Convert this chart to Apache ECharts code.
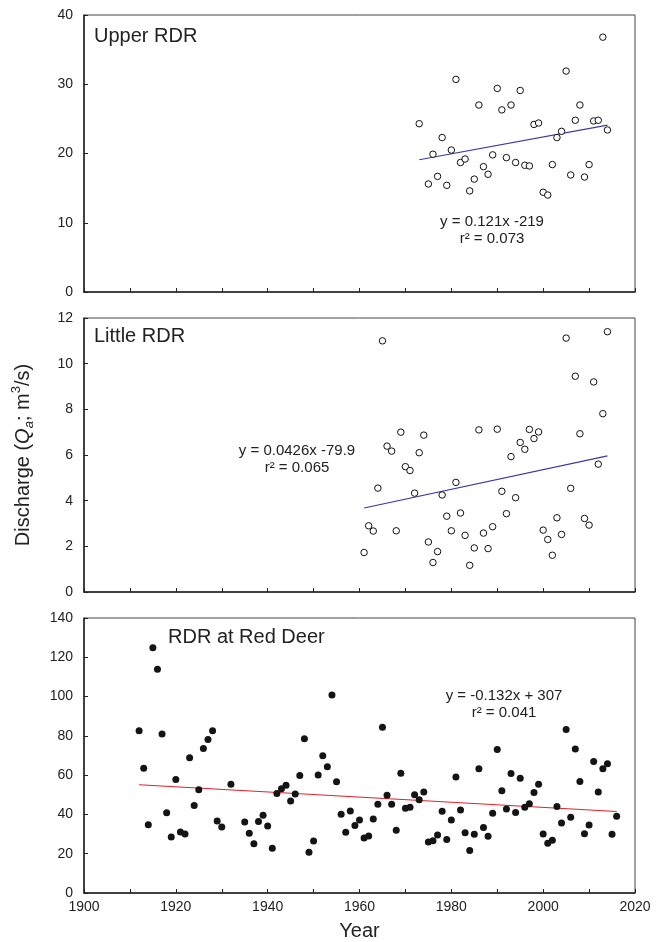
<!DOCTYPE html>
<html>
<head>
<meta charset="utf-8">
<title>Red Deer River annual discharge</title>
<script src="https://cdn.jsdelivr.net/npm/echarts@6/dist/echarts.min.js"></script>
<style>
  html, body { margin: 0; padding: 0; background: #fff; }
  #chart { width: 664px; height: 942px; }
</style>
</head>
<body>
<div id="chart"></div>
<script>
  // Upper RDR - 空心点
  var upperYears = [1973, 1975, 1976, 1977, 1978, 1979, 1980, 1981, 1982, 1983, 1984, 1985, 1986, 1987,
    1988, 1989, 1990, 1991, 1992, 1993, 1994, 1995, 1996, 1997, 1998, 1999, 2000, 2001, 2002, 2003,
    2004, 2005, 2006, 2007, 2008, 2009, 2010, 2011, 2012, 2013, 2014];
  var upperQ = [24.3, 15.6, 19.9, 16.7, 22.3, 15.4, 20.5, 30.7, 18.7, 19.2, 14.6, 16.3, 27.0, 18.1,
    17.0, 19.8, 29.4, 26.3, 19.4, 27.0, 18.7, 29.1, 18.3, 18.2, 24.2, 24.4, 14.4, 14.0, 18.4, 22.3,
    23.2, 31.9, 16.9, 24.8, 27.0, 16.6, 18.4, 24.7, 24.8, 36.8, 23.4];
  var upperTrend = [[1973, 19.1], [2014, 24.1]];

  // Little RDR - 空心点
  var littleYears = [1961, 1962, 1963, 1964, 1965, 1966, 1967, 1968, 1969, 1970, 1971, 1972, 1973, 1974,
    1975, 1976, 1977, 1978, 1979, 1980, 1981, 1982, 1983, 1984, 1985, 1986, 1987, 1988, 1989, 1990,
    1991, 1992, 1993, 1994, 1995, 1996, 1997, 1998, 1999, 2000, 2001, 2002, 2003, 2004, 2005, 2006,
    2007, 2008, 2009, 2010, 2011, 2012, 2013, 2014];
  var littleQ = [1.73, 2.9, 2.67, 4.55, 11.0, 6.39, 6.17, 2.68, 7.0, 5.49, 5.32, 4.33, 6.1, 6.87,
    2.19, 1.29, 1.77, 4.25, 3.32, 2.68, 4.8, 3.46, 2.48, 1.17, 1.93, 7.1, 2.58, 1.9, 2.86, 7.13,
    4.41, 3.43, 5.93, 4.13, 6.55, 6.25, 7.12, 6.72, 7.01, 2.71, 2.3, 1.61, 3.25, 2.52, 11.12, 4.54,
    9.45, 6.93, 3.22, 2.93, 9.2, 5.6, 7.81, 11.4];
  var littleTrend = [[1961, 3.68], [2014, 5.96]];

  // RDR at Red Deer - 实心点
  var redDeerYears = [1912, 1913, 1914, 1915, 1916, 1917, 1918, 1919, 1920, 1921, 1922, 1923, 1924,
    1925, 1926, 1927, 1928, 1929, 1930, 1932, 1935, 1936, 1937, 1938, 1939, 1940, 1941, 1942, 1943,
    1944, 1945, 1946, 1947, 1948, 1949, 1950, 1951, 1952, 1953, 1954, 1955, 1956, 1957, 1958, 1959,
    1960, 1961, 1962, 1963, 1964, 1965, 1966, 1967, 1968, 1969, 1970, 1971, 1972, 1973, 1974, 1975,
    1976, 1977, 1978, 1979, 1980, 1981, 1982, 1983, 1984, 1985, 1986, 1987, 1988, 1989, 1990, 1991,
    1992, 1993, 1994, 1995, 1996, 1997, 1998, 1999, 2000, 2001, 2002, 2003, 2004, 2005, 2006, 2007,
    2008, 2009, 2010, 2011, 2012, 2013, 2014, 2015, 2016];
  var redDeerQ = [82.6, 63.5, 34.7, 124.9, 113.9, 81.0, 40.8, 28.5, 57.8, 31.0, 30.0, 68.9, 44.5,
    52.6, 73.6, 78.1, 82.6, 36.6, 33.6, 55.4, 36.1, 30.4, 25.1, 36.4, 39.6, 34.1, 22.8, 50.6, 53.1,
    54.9, 46.8, 50.4, 59.8, 78.5, 20.8, 26.5, 60.1, 69.9, 64.3, 100.8, 56.6, 40.1, 30.9, 41.8, 34.4,
    37.2, 28.0, 29.0, 37.7, 45.2, 84.4, 49.8, 45.2, 31.9, 61.0, 43.1, 43.6, 50.0, 47.5, 51.4, 26.0,
    26.6, 29.5, 41.6, 27.3, 37.2, 59.1, 42.3, 30.7, 21.6, 29.9, 63.2, 33.4, 28.9, 40.6, 73.1, 52.1,
    42.8, 60.8, 41.0, 58.4, 43.6, 45.5, 51.2, 55.4, 30.0, 25.3, 26.8, 44.1, 35.6, 83.2, 38.6, 73.3,
    56.8, 30.2, 34.6, 67.0, 51.4, 63.2, 65.8, 29.9, 39.1];
  var redDeerTrend = [[1912, 55.1], [2016, 41.5]];

  // 纵轴刻度 [min, max, interval]
  var upperTicks = [0, 40, 10];
  var littleTicks = [0, 12, 2];
  var redDeerTicks = [0, 140, 20];

  var fontFamily = "'Liberation Sans', Arial, Helvetica, sans-serif";
  var axisColor = '#222';

  function pairs(xs, ys) {
    return xs.map(function (x, i) { return [x, ys[i]]; });
  }

  function makeXAxis(idx, showLabel) {
    return {
      type: 'value',
      gridIndex: idx,
      min: 1900,
      max: 2020,
      interval: 10,
      name: showLabel ? 'Year' : '',
      nameLocation: 'middle',
      nameGap: 28,
      nameTextStyle: { fontFamily: fontFamily, fontSize: 20, color: axisColor },
      axisLine: { lineStyle: { color: axisColor, width: 1.5 } },
      axisTick: { inside: true, length: 4, lineStyle: { color: axisColor } },
      axisLabel: {
        show: showLabel,
        margin: 7,
        fontFamily: fontFamily,
        fontSize: 14,
        color: axisColor,
        formatter: function (v) { return v % 20 === 0 ? String(v) : ''; }
      },
      splitLine: { show: false }
    };
  }

  function makeYAxis(idx, ticks) {
    return {
      type: 'value',
      gridIndex: idx,
      min: ticks[0],
      max: ticks[1],
      interval: ticks[2],
      axisLine: { show: true, lineStyle: { color: axisColor, width: 1.5 } },
      axisTick: { show: true, inside: true, length: 4, lineStyle: { color: axisColor } },
      axisLabel: { margin: 11, fontFamily: fontFamily, fontSize: 14, color: axisColor },
      splitLine: { show: false }
    };
  }

  var yAxes = [
    makeYAxis(0, upperTicks),
    makeYAxis(1, littleTicks),
    makeYAxis(2, redDeerTicks)
  ];
  // 纵轴标题放在中间那张图上
  yAxes[1].name = 'Discharge ({q|Q}{sub|a}; m{sup|3}/s)';
  yAxes[1].nameLocation = 'middle';
  yAxes[1].nameGap = 48;
  yAxes[1].nameTextStyle = {
    fontFamily: fontFamily,
    fontSize: 20,
    lineHeight: 26,
    color: axisColor,
    rich: {
      q: { fontFamily: fontFamily, fontSize: 20, lineHeight: 26, fontStyle: 'italic', color: axisColor },
      sub: { fontFamily: fontFamily, fontSize: 13, lineHeight: 13, fontStyle: 'italic', color: axisColor, verticalAlign: 'bottom' },
      sup: { fontFamily: fontFamily, fontSize: 13, lineHeight: 13, color: axisColor, verticalAlign: 'top' }
    }
  };

  function openDots(idx, data) {
    return {
      type: 'scatter', xAxisIndex: idx, yAxisIndex: idx, data: data,
      symbol: 'circle', symbolSize: 6.5,
      itemStyle: { color: '#fff', borderColor: '#111', borderWidth: 1, opacity: 1 },
      z: 3
    };
  }

  function trendLine(idx, data, color) {
    return {
      type: 'line', xAxisIndex: idx, yAxisIndex: idx, data: data,
      symbol: 'none', silent: true,
      lineStyle: { color: color, width: 1.2 },
      z: 2
    };
  }

  function label(x, y, text, size, align) {
    return {
      type: 'text', x: x, y: y, z: 10,
      style: {
        text: text,
        font: size + 'px ' + fontFamily,
        fill: axisColor,
        align: align, textAlign: align,
        verticalAlign: 'middle', textVerticalAlign: 'middle'
      }
    };
  }

  var chart = echarts.init(document.getElementById('chart'));
  chart.setOption({
    backgroundColor: '#fff',
    animation: false,
    grid: [
      { left: 84, top: 15, width: 551, height: 277, show: true, borderColor: '#444', borderWidth: 1 },
      { left: 84, top: 318, width: 551, height: 274, show: true, borderColor: '#444', borderWidth: 1 },
      { left: 84, top: 618, width: 551, height: 276, show: true, borderColor: '#444', borderWidth: 1 }
    ],
    xAxis: [makeXAxis(0, false), makeXAxis(1, false), makeXAxis(2, true)],
    yAxis: yAxes,
    series: [
      openDots(0, pairs(upperYears, upperQ)),
      trendLine(0, upperTrend, '#3a3aa6'),
      openDots(1, pairs(littleYears, littleQ)),
      trendLine(1, littleTrend, '#3a3aa6'),
      {
        type: 'scatter', xAxisIndex: 2, yAxisIndex: 2, data: pairs(redDeerYears, redDeerQ),
        symbol: 'circle', symbolSize: 7,
        itemStyle: { color: '#141414', opacity: 1 },
        z: 3
      },
      trendLine(2, redDeerTrend, '#e3202a')
    ],
    graphic: [
      label(94, 36, 'Upper RDR', 20, 'left'),
      label(94, 336, 'Little RDR', 20, 'left'),
      label(168, 637, 'RDR at Red Deer', 20, 'left'),
      label(492, 222, 'y = 0.121x -219', 15, 'center'),
      label(492, 239, 'r\u00B2 = 0.073', 15, 'center'),
      label(297, 451, 'y = 0.0426x -79.9', 15, 'center'),
      label(297, 468, 'r\u00B2 = 0.065', 15, 'center'),
      label(504, 696, 'y = -0.132x + 307', 15, 'center'),
      label(504, 713, 'r\u00B2 = 0.041', 15, 'center')
    ]
  });
</script>
</body>
</html>
